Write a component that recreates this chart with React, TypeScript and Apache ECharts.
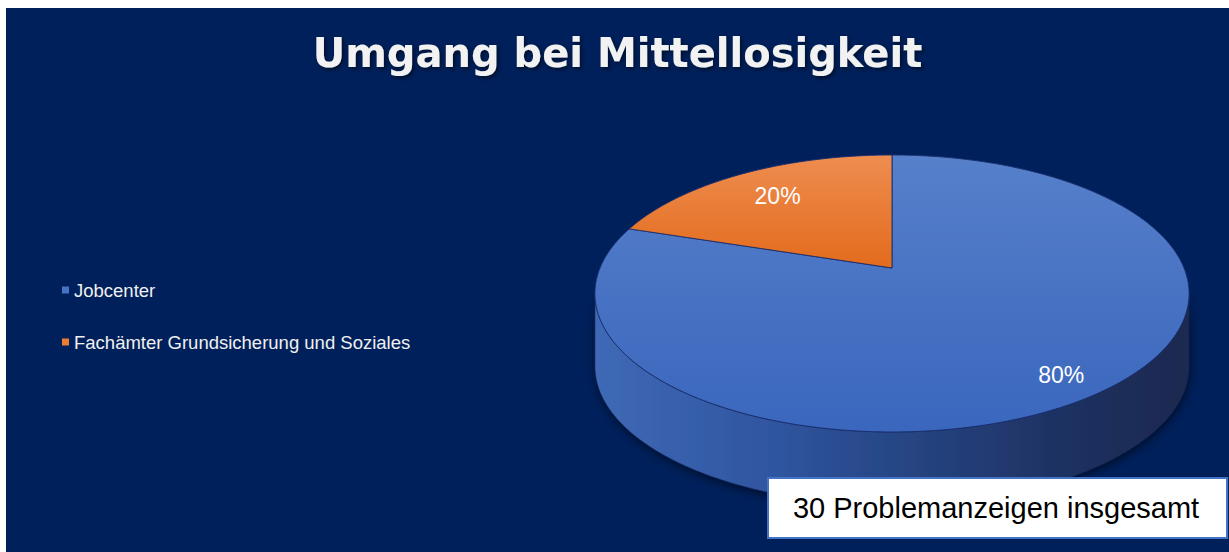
import React, { useEffect, useRef } from "react";
import * as echarts from "echarts";

// ---------- data ----------
const TITLE = "Umgang bei Mittellosigkeit";
const CATEGORIES = ["Jobcenter", "Fachämter Grundsicherung und Soziales"];
const VALUES = [24, 6]; // 30 Problemanzeigen -> 80 % / 20 %
const NOTE = "30 Problemanzeigen insgesamt";

// ---------- style ----------
const BG = "#00205b";
const SLICE_COLORS = ["#4472c4", "#ed7d31"];
const TOP_GRADIENTS = [
  ["#5680ca", "#3a66bd"],
  ["#ee8d50", "#e36b1c"],
];
const LABEL_RADIUS = [0.86, 0.74];
const FONT = '"Liberation Sans", Arial, sans-serif';

// 3D projection of the disc (container px)
const GEO = { cx: 886, cy: 260, s: 292, w: 133.8, u: 0.184, depth: 73 };

function proj(phiDeg: number, f: number, dy: number): number[] {
  const p = (phiDeg * Math.PI) / 180;
  const den = 1 + GEO.u * f * Math.sin(p);
  return [
    GEO.cx + (GEO.s * f * Math.cos(p)) / den,
    GEO.cy - (GEO.w * f * Math.sin(p)) / den + dy,
  ];
}

function arc(a: number, b: number, f: number, dy: number): number[][] {
  const pts: number[][] = [];
  const n = Math.max(2, Math.ceil(Math.abs(a - b)));
  for (let k = 0; k <= n; k++) pts.push(proj(a + ((b - a) * k) / n, f, dy));
  return pts;
}

export default function App() {
  const ref = useRef<HTMLDivElement>(null);
  useEffect(() => {
    document.body.style.margin = "0";
    const chart = echarts.init(ref.current!, undefined, { renderer: "svg" });
    const total = VALUES.reduce((a, b) => a + b, 0);
    const tan = (Math.asin(-GEO.u) * 180) / Math.PI; // ~ -10.6
    const frontA = tan;
    const frontB = -180 - tan;
    const sideHalf = GEO.s / Math.sqrt(1 - GEO.u * GEO.u);

    const renderItem = (params: any, api: any) => {
      const i = params.dataIndex;
      const val = api.value(0);
      let before = 0;
      for (let k = 0; k < i; k++) before += VALUES[k];
      const start = 90 - (360 * before) / total;
      const end = start - (360 * val) / total;
      const children: any[] = [];
      // side
      const a = Math.min(start, frontA);
      const b = Math.max(end, frontB);
      if (a > b) {
        const top = arc(a, b, 1, 0);
        const bot = arc(b, a, 1, GEO.depth);
        children.push({
          type: "polygon",
          shape: { points: top.concat(bot) },
          style: {
            fill: new echarts.graphic.LinearGradient(
              GEO.cx - sideHalf, 0, GEO.cx + sideHalf, 0,
              [
                { offset: 0, color: "#3f69b6" },
                { offset: 0.3, color: "#2f55a0" },
                { offset: 0.55, color: "#25437f" },
                { offset: 0.8, color: "#1e3060" },
                { offset: 1, color: "#1b2a4f" },
              ],
              true
            ),
            stroke: "rgba(20,35,80,0.6)",
            lineWidth: 1,
            shadowBlur: 10,
            shadowColor: "rgba(0,0,0,0.55)",
            shadowOffsetY: 3,
            shadowOffsetX: 1,
          },
        });
      }
      // top face
      const c = proj(0, 0, 0);
      const pts = [c].concat(arc(start, end, 1, 0));
      const g = TOP_GRADIENTS[i % TOP_GRADIENTS.length];
      children.push({
        type: "polygon",
        shape: { points: pts },
        style: {
          fill: new echarts.graphic.LinearGradient(0, 0, 0, 1, [
            { offset: 0, color: g[0] },
            { offset: 1, color: g[1] },
          ]),
          stroke: "rgba(25,45,110,0.9)",
          lineWidth: 1,
        },
      });
      // label
      const mid = (start + end) / 2;
      const lp = proj(mid, LABEL_RADIUS[i % LABEL_RADIUS.length], 0);
      children.push({
        type: "text",
        style: {
          text: Math.round((val / total) * 100) + "%",
          x: lp[0],
          y: lp[1],
          fill: "#ffffff",
          fontSize: 23,
          fontFamily: FONT,
          align: "center",
          verticalAlign: "middle",
        },
      });
      return { type: "group", children };
    };

    chart.setOption({
      animation: false,
      backgroundColor: BG,
      title: {
        text: TITLE,
        left: "center",
        top: 20,
        textStyle: {
          color: "#f2f2f2",
          fontSize: 40,
          fontWeight: "bold",
          fontFamily: '"DejaVu Sans", sans-serif',
          textShadowColor: "rgba(0,0,0,0.55)",
          textShadowBlur: 4,
          textShadowOffsetX: 2,
          textShadowOffsetY: 2,
        },
      },
      legend: {
        orient: "vertical",
        left: 51,
        top: 267,
        itemWidth: 7,
        itemHeight: 7,
        itemGap: 32,
        icon: "rect",
        data: CATEGORIES,
        textStyle: { color: "#f0f0f0", fontSize: 18.5, fontFamily: FONT, lineHeight: 20 },
      },
      series: [
        {
          type: "pie",
          name: "legend",
          radius: [0, 1],
          center: [-50, -50],
          silent: true,
          label: { show: false },
          labelLine: { show: false },
          data: CATEGORIES.map((n, i) => ({
            name: n,
            value: VALUES[i],
            itemStyle: { color: SLICE_COLORS[i] },
          })),
        },
        {
          type: "custom",
          name: "pie3d",
          coordinateSystem: "none",
          silent: true,
          z: 2,
          renderItem,
          data: CATEGORIES.map((n, i) => ({ name: n, value: VALUES[i] })),
        },
      ],
      graphic: {
        zlevel: 1,
        elements: [
          {
            type: "rect",
            z: 100,
            shape: { x: 762, y: 470, width: 459, height: 60 },
            style: { fill: "#ffffff", stroke: "#4472c4", lineWidth: 2 },
          },
          {
            type: "text",
            z: 101,
            style: {
              text: NOTE,
              x: 990,
              y: 500,
              fill: "#000000",
              fontSize: 29,
              fontFamily: FONT,
              align: "center",
              verticalAlign: "middle",
            },
          },
        ],
      },
    });
    return () => chart.dispose();
  }, []);
  return (
    <div
      ref={ref}
      style={{ position: "absolute", left: 6, top: 8, width: 1223, height: 544 }}
    />
  );
}
